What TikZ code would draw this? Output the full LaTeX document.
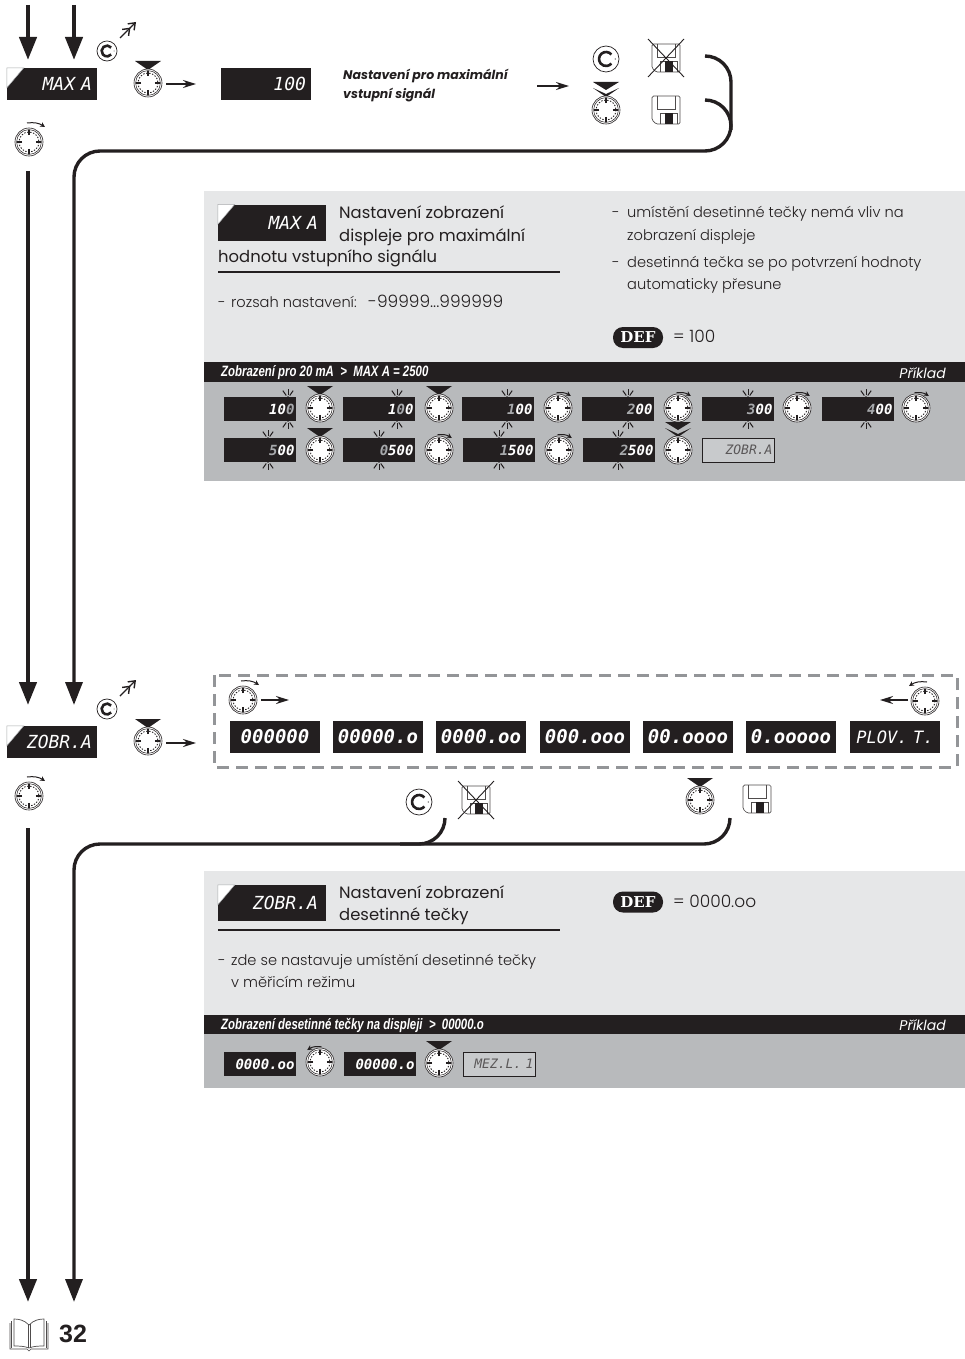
\documentclass[tikz,border=0pt]{standalone}
\usepackage{fontspec}
\setmainfont{Poppins}
\newfontfamily\lightfont{Poppins Light}
\newfontfamily\lcdfont{DejaVu Sans Mono}
\newfontfamily\barfont[FakeStretch=0.76]{Liberation Sans}
\newfontfamily\deffont{DejaVu Serif}
\newfontfamily\pagefont{Liberation Sans}
\usetikzlibrary{arrows.meta}
\definecolor{ink}{HTML}{231F20}
\definecolor{panellight}{HTML}{E6E7E8}
\definecolor{paneldark}{HTML}{B8BABC}
\definecolor{lcdgrey}{HTML}{A7A9AC}
\definecolor{lcdoff}{HTML}{C8CACC}
\definecolor{dashgrey}{HTML}{939598}
\newcommand{\blinkd}[1]{\textcolor{lcdgrey}{#1}}
\tikzset{
  flowline/.style={ink, line width=3.4pt, rounded corners=26pt},
  flowarrow/.style={flowline, -{Triangle[length=23pt,width=17pt]}},
  trunkarrow/.style={flowarrow, line width=4.3pt},
  smallarrow/.style={ink, line width=1.8pt, -{Stealth[length=13pt,width=8pt]}},
  lcdbig/.style={fill=ink, text=white, minimum width=90pt, minimum height=32pt, text width=80pt, align=right, inner sep=0pt,
    font=\lcdfont\itshape\fontsize{18}{20}\selectfont},
  lcdwide/.style={lcdbig, text width=86pt, align=center, font=\lcdfont\itshape\bfseries\fontsize{19}{20}\selectfont},
  lcdhead/.style={lcdbig, minimum width=108pt, minimum height=36pt, text width=92pt},
  lcdrow/.style={fill=ink, text=white, minimum width=72pt, minimum height=24pt, text width=69pt, align=right, inner sep=0pt,
    font=\lcdfont\itshape\bfseries\fontsize{14}{16}\selectfont},
  lcdidle/.style={lcdrow, fill=lcdoff, draw=ink, line width=.7pt, text=ink!75, font=\lcdfont\itshape\fontsize{13}{16}\selectfont},
  barlabel/.style={text=white, inner sep=0pt, anchor=west, font=\barfont\bfseries\itshape\fontsize{15}{18}\selectfont},
  barright/.style={text=white, inner sep=0pt, anchor=east, font=\itshape\fontsize{14}{16}\selectfont},
  headtext/.style={text=ink, inner sep=0pt, anchor=base west, font=\fontsize{16.4}{18}\selectfont},
  bodytext/.style={text=ink, inner sep=0pt, anchor=base west, font=\lightfont\fontsize{14.6}{18}\selectfont},
  numbertext/.style={bodytext, font=\lightfont\fontsize{17}{18}\selectfont},
  noteitalic/.style={text=ink, inner sep=0pt, anchor=base west, font=\bfseries\itshape\fontsize{12.5}{15}\selectfont},
  defpill/.style={fill=ink, text=white, rounded corners=10pt, minimum width=50pt, minimum height=21pt, inner sep=0pt,
    font=\deffont\bfseries\fontsize{15}{16}\selectfont},
  pics/dial/.style={code={
    \draw[ink, line width=.6pt, fill=white] (0,0) circle (14);
    \draw[ink, line width=.5pt] (0,0) circle (12.4);
    \draw[ink, line width=.9pt, dash pattern=on 1.4pt off 1.6pt] (0,0) circle (10);
    \foreach \a in {0,90,180,270} \draw[ink, line width=1.5pt] (\a:6.8) -- (\a:12);
  }},
  pics/presstip/.style={code={\fill[ink] (-13,-22) -- (13,-22) -- (0,-13) -- cycle;}},
  pics/doubletip/.style={code={
    \fill[ink] (-13,-28) -- (13,-28) -- (0,-20) -- cycle;
    \fill[ink] (-13,-22) -- (0,-16) -- (13,-22) -- (0,-13) -- cycle;
  }},
  pics/dialpress/.style={code={\pic {presstip}; \pic {dial};}},
  pics/dialdouble/.style={code={\pic {doubletip}; \pic {dial};}},
  pics/dialturn/.style={code={\pic {dial};
    \draw[ink, line width=1pt, -{Stealth[length=5pt,width=5pt]}] (-2,-19) to[bend left=20] (16,-15);}},
  pics/dialback/.style={code={\pic {dial};
    \draw[ink, line width=1pt, -{Stealth[length=5pt,width=5pt]}] (2,-19) to[bend right=20] (-16,-15);}},
  pics/blink/.style={code={
    \fill[ink] (0,0) circle (1.8);
    \foreach \a in {270,235,305} \draw[ink, line width=1pt] (\a:3) -- (\a:9);
  }},
  pics/blinkdown/.style={code={
    \fill[ink] (0,0) circle (1.8);
    \foreach \a in {90,55,125} \draw[ink, line width=1pt] (\a:3) -- (\a:9);
  }},
  pics/flag/.style={code={\draw[lcdgrey, line width=.5pt, fill=white] (0,0) -- (17,0) -- (0,20) -- cycle;}},
  pics/cbutton/.style={code={
    \draw[ink, line width=.7pt, fill=white] (0,0) circle (13);
    \draw[ink, line width=2.6pt] (5.4,-4.5) arc (-40:-320:7);
    \fill[ink] (9.3,0) circle (.6);
  }},
  pics/floppy/.style={code={
    \draw[ink!80, line width=.7pt, rounded corners=1.5pt, fill=white] (-14,-14) -- (14,-14) -- (14,14) -- (-10,14) -- (-14,10) -- cycle;
    \draw[ink!80, line width=.7pt] (-9,-14) -- (-9,-1) -- (9,-1) -- (9,-14);
    \draw[ink!80, line width=.7pt] (-6,14) -- (-6,3) -- (11,3) -- (11,14);
    \fill[ink] (-1,3) rectangle (7,14);
  }},
  pics/floppyno/.style={code={\pic {floppy};
    \draw[ink, line width=.9pt] (-18,-19) -- (18,19);
    \draw[ink, line width=.9pt] (18,-19) -- (-18,19);
  }},
  pics/cexit/.style={code={
    \draw[ink, line width=1.4pt, -{Straight Barb[length=6pt,width=9pt] Straight Barb[length=6pt,width=9pt]}] (0,0) -- (16,-16);
  }},
  pics/book/.style={code={
    \draw[ink!80, line width=.6pt, fill=white] (-19,-11) -- (-19,15) -- (-2,15) -- (0,17) -- (2,15) -- (19,15) -- (19,-11);
    \draw[ink!80, line width=.6pt] (-17.5,-13) -- (-17.5,13.5) (17.5,-13) -- (17.5,13.5);
    \draw[ink!80, line width=.7pt, fill=white] (0,-9) .. controls (-5,-14) and (-10,-15) .. (-15,-15) -- (-15,12) .. controls (-10,12) and (-5,12) .. (0,14)
      .. controls (5,12) and (10,12) .. (15,12) -- (15,-15) .. controls (10,-15) and (5,-14) .. (0,-9) -- cycle;
    \draw[ink!80, line width=.7pt] (-1,-10) -- (-1,14) (1,-10) -- (1,14);
  }},
}
\begin{document}
\begin{tikzpicture}[x=1pt, y=-1pt]
  \useasboundingbox (0,0) rectangle (965,1359);
  % panels
  \fill[panellight] (204,191) rectangle (965,362);
  \fill[ink] (204,362) rectangle (965,382);
  \fill[paneldark] (204,382) rectangle (965,481);
  \fill[panellight] (204,871) rectangle (965,1015);
  \fill[ink] (204,1015) rectangle (965,1034);
  \fill[paneldark] (204,1034) rectangle (965,1088);
  % named ends of the long lines
  \coordinate (inleft) at (28,5);
  \coordinate (inright) at (74,5);
  \coordinate (maxleft) at (28,60);
  \coordinate (maxright) at (74,60);
  \coordinate (midleft) at (28,171);
  \coordinate (zobrleft) at (28,705);
  \coordinate (zobrright) at (74,705);
  \coordinate (lowleft) at (28,828);
  \coordinate (outleft) at (28,1302);
  \coordinate (outright) at (74,1302);
  \coordinate (cancelmax) at (705,56);
  \coordinate (savemax) at (705,100);
  \coordinate (cancelzobr) at (445,818);
  \coordinate (savezobr) at (730,818);
  \draw[trunkarrow] (inleft) -- (maxleft);
  \draw[trunkarrow] (inright) -- (maxright);
  \draw[trunkarrow] (midleft) -- (zobrleft);
  \draw[trunkarrow] (lowleft) -- (outleft);
  \draw[flowarrow] (cancelmax) -- (731,56) -- (731,151) -- (74,151) -- (zobrright);
  \draw[flowline] (savemax) -- (731,100) -- (731,130);
  \draw[flowarrow] (savezobr) -- (730,844) -- (74,844) -- (outright);
  \draw[flowline] (cancelzobr) -- (445,844) -- (400,844);
  % first step
  \node[lcdbig] (maxa) at (52,84) {MAX A};
  \pic at (maxa.north west) {flag};
  \pic[scale=.77] at (107,51) {cbutton};
  \pic at (120,38) {cexit};
  \pic at (148,83) {dialpress};
  \pic at (29,142) {dialturn};
  \node[lcdbig] (valmax) at (266,84) {100};
  \draw[smallarrow] (166,84) -- (196,84);
  \node[noteitalic] (notemax) at (343,80) {Nastavení pro maximální};
  \node[noteitalic] (notemaxb) at (343,99) {vstupní signál};
  \draw[smallarrow] (537,86) -- (569,86);
  \pic at (606,59) {cbutton};
  \pic at (666,58) {floppyno};
  \pic at (606,110) {dialdouble};
  \pic at (666,110) {floppy};
  % first text panel
  \node[lcdhead] (headmax) at (272,222.5) {MAX A};
  \pic at (headmax.north west) {flag};
  \node[headtext] (titlea) at (339,218.5) {Nastavení zobrazení};
  \node[headtext] (titleb) at (339,241) {displeje pro maximální};
  \node[headtext] (titlec) at (218,262.5) {hodnotu vstupního signálu};
  \draw[ink, line width=1.4pt] (218,272) -- (560,272);
  \node[bodytext] (rangedash) at (218,307) {-};
  \node[bodytext] (rangetxt) at (231,307) {rozsah nastavení:};
  \node[numbertext] (rangeval) at (368,307) {-99999...999999};
  \node[bodytext] (noteadash) at (612,218) {-};
  \node[bodytext] (notea) at (627,218) {umístění desetinné tečky nemá vliv na};
  \node[bodytext] (noteb) at (627,240) {zobrazení displeje};
  \node[bodytext] (notecdash) at (612,267) {-};
  \node[bodytext] (notec) at (627,267) {desetinná tečka se po potvrzení hodnoty};
  \node[bodytext] (noted) at (627,289) {automaticky přesune};
  \node[defpill] (defmax) at (638,337.5) {DEF};
  \node[numbertext] (defmaxval) at (673,342) {= 100};
  \node[barlabel] (barmax) at (221,373) {Zobrazení pro 20 mA\ \ >\ \ MAX A = 2500};
  \node[barright] (barmaxr) at (946,373) {Příklad};
  % example rows
  \foreach \name/\x/\txt/\bx in {ra/260/{10\blinkd{0}}/288, rb/379/{1\blinkd{0}0}/397, rc/498/{\blinkd{1}00}/507,
      rd/618/{\blinkd{2}00}/628, re/738/{\blinkd{3}00}/748, rf/858/{\blinkd{4}00}/866} {
    \node[lcdrow] (\name) at (\x,409) {\txt};
    \pic at (\bx,398) {blink};
    \pic at (\bx,420) {blinkdown};
  }
  \foreach \name/\x/\txt/\bx in {sa/260/{\blinkd{5}00}/268, sb/379/{\blinkd{0}500}/379,
      sc/499/{\blinkd{1}500}/499, sd/619/{\blinkd{2}500}/618} {
    \node[lcdrow] (\name) at (\x,450) {\txt};
    \pic at (\bx,439) {blink};
    \pic at (\bx,461) {blinkdown};
  }
  \node[lcdidle] (se) at (738,450) {ZOBR.A};
  \foreach \x in {320,439} \pic[scale=.8] at (\x,408) {dialpress};
  \foreach \x in {558,678,797,916} \pic[scale=.8] at (\x,408) {dialturn};
  \pic[scale=.8] at (320,450) {dialpress};
  \foreach \x in {439,559} \pic[scale=.8] at (\x,450) {dialturn};
  \pic[scale=.8] at (678,450) {dialdouble};
  % second step
  \node[lcdbig] (zobr) at (52,742) {ZOBR.A};
  \pic at (zobr.north west) {flag};
  \pic[scale=.77] at (107,709) {cbutton};
  \pic at (120,696) {cexit};
  \pic at (148,741) {dialpress};
  \pic at (29,796) {dialturn};
  \draw[smallarrow] (166,743) -- (196,743);
  % choice of decimal point
  \draw[dashgrey, line width=3pt, dash pattern=on 12pt off 7pt] (214,675) rectangle (957,767);
  \pic at (243,700) {dialturn};
  \draw[smallarrow] (261,700) -- (289,700);
  \pic at (925,701) {dialback};
  \draw[smallarrow] (908,700) -- (880,700);
  \foreach \name/\x/\txt in {da/275/000000, db/378/00000.o, dc/481/0000.oo, dd/585/000.ooo,
      de/688/00.oooo, df/791/0.ooooo} {
    \node[lcdwide] (\name) at (\x,737) {\txt};
  }
  \node[lcdwide, font=\lcdfont\itshape\fontsize{17}{20}\selectfont] (dg) at (895,737) {PLOV. T.};
  \pic at (419,802) {cbutton};
  \pic at (476,800) {floppyno};
  \pic at (700,800) {dialpress};
  \pic at (757,799) {floppy};
  % second text panel
  \node[lcdhead] (headzobr) at (272,903) {ZOBR.A};
  \pic at (headzobr.north west) {flag};
  \node[headtext] (titled) at (339,898.5) {Nastavení zobrazení};
  \node[headtext] (titlee) at (339,920.5) {desetinné tečky};
  \draw[ink, line width=1.4pt] (218,930) -- (560,930);
  \node[bodytext] (zdedash) at (218,965) {-};
  \node[bodytext] (zdea) at (231,965) {zde se nastavuje umístění desetinné tečky};
  \node[bodytext] (zdeb) at (231,987) {v měřicím režimu};
  \node[defpill] (defzobr) at (638,902) {DEF};
  \node[numbertext] (defzobrval) at (673,907) {= 0000.oo};
  \node[barlabel] (barzobr) at (221,1025) {Zobrazení desetinné tečky na displeji\ \ >\ \ 00000.o};
  \node[barright] (barzobrr) at (946,1025) {Příklad};
  \node[lcdrow] (ta) at (260,1064) {0000.oo};
  \node[lcdrow] (tb) at (380,1064) {00000.o};
  \node[lcdidle] (tc) at (499,1064) {MEZ.L. 1};
  \pic[scale=.8] at (320,1062) {dialback};
  \pic[scale=.8] at (439,1063) {dialpress};
  % page reference
  \pic at (29,1334) {book};
  \node[text=ink, inner sep=0pt, anchor=west, font=\pagefont\bfseries\fontsize{25}{28}\selectfont] (pageref) at (59,1334) {32};
\end{tikzpicture}
\end{document}
